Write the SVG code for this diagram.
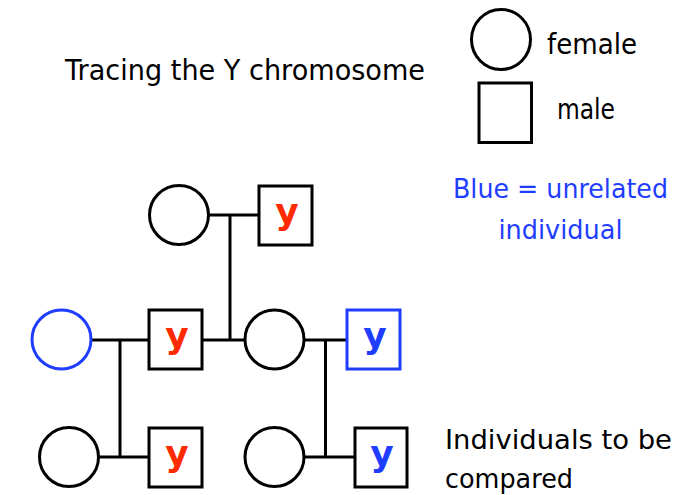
<svg xmlns="http://www.w3.org/2000/svg" width="691" height="495" viewBox="0 0 691 495">
  <style>
    .txt { font-family: "DejaVu Sans", "Liberation Sans", sans-serif; fill: #000; }
    .blue-txt { font-family: "DejaVu Sans", "Liberation Sans", sans-serif; fill: #1f3dff; }
    .shape { fill: #fff; stroke: #000; stroke-width: 3; }
    .blue { fill: #fff; stroke: #1f3dff; stroke-width: 3; }
    .conn { stroke: #000; stroke-width: 3; fill: none; }
    .y { font-family: "DejaVu Sans", "Liberation Sans", sans-serif; font-weight: bold; font-size: 36px; text-anchor: middle; }
    .yr { fill: #ff2a00; }
    .yb { fill: #1f3dff; }
  </style>
  <rect width="691" height="495" fill="#fff"/>

  <!-- title and legend -->
  <text class="txt" x="65" y="80" font-size="27.5" textLength="360" lengthAdjust="spacingAndGlyphs">Tracing the Y chromosome</text>
  <g id="legend-female">
    <ellipse class="shape" cx="501" cy="39.5" rx="29.5" ry="30" stroke-width="2.5"/>
    <text class="txt" x="547" y="54" font-size="29" textLength="90" lengthAdjust="spacingAndGlyphs">female</text>
  </g>
  <g id="legend-male">
    <rect class="shape" x="479" y="83" width="52.5" height="59.5" stroke-width="2.5"/>
    <text class="txt" x="557" y="119" font-size="29" textLength="58" lengthAdjust="spacingAndGlyphs">male</text>
  </g>
  <text class="blue-txt" x="560.5" y="198" font-size="27" text-anchor="middle" textLength="215" lengthAdjust="spacingAndGlyphs">Blue = unrelated</text>
  <text class="blue-txt" x="560.5" y="239" font-size="27" text-anchor="middle" textLength="124" lengthAdjust="spacingAndGlyphs">individual</text>
  <text class="txt" x="445" y="449" font-size="27" textLength="227" lengthAdjust="spacingAndGlyphs">Individuals to be</text>
  <text class="txt" x="445" y="488" font-size="27" textLength="128" lengthAdjust="spacingAndGlyphs">compared</text>

  <!-- connectors -->
  <g id="connectors">
    <line class="conn" x1="209" y1="215" x2="259" y2="215"/>
    <line class="conn" x1="230" y1="215" x2="230" y2="340"/>
    <line class="conn" x1="91" y1="340" x2="149" y2="340"/>
    <line class="conn" x1="202" y1="340" x2="245" y2="340"/>
    <line class="conn" x1="304" y1="340" x2="347" y2="340"/>
    <line class="conn" x1="120" y1="340" x2="120" y2="457"/>
    <line class="conn" x1="325.5" y1="340" x2="325.5" y2="457"/>
    <line class="conn" x1="99" y1="457" x2="149" y2="457"/>
    <line class="conn" x1="304" y1="457" x2="355" y2="457"/>
  </g>

  <!-- generation 1 -->
  <g id="gp-female">
    <circle class="shape" cx="179" cy="215" r="29.5"/>
  </g>
  <g id="gp-male">
    <rect class="shape" x="259" y="186" width="53" height="59"/>
    <text class="y yr" x="287" y="224">y</text>
  </g>

  <!-- generation 2 -->
  <g id="unrelated-female">
    <circle class="blue" cx="61.5" cy="339.5" r="29.5"/>
  </g>
  <g id="son">
    <rect class="shape" x="149" y="310" width="53" height="59"/>
    <text class="y yr" x="177" y="348">y</text>
  </g>
  <g id="daughter">
    <circle class="shape" cx="274.5" cy="339.5" r="29.5"/>
  </g>
  <g id="unrelated-male">
    <rect class="blue" x="347" y="310" width="53" height="59"/>
    <text class="y yb" x="375" y="348">y</text>
  </g>

  <!-- generation 3 -->
  <g id="grandchild-female-1">
    <circle class="shape" cx="69" cy="457" r="29.5"/>
  </g>
  <g id="grandson-1">
    <rect class="shape" x="149" y="428" width="53" height="59"/>
    <text class="y yr" x="177" y="466">y</text>
  </g>
  <g id="grandchild-female-2">
    <circle class="shape" cx="274.5" cy="457" r="29.5"/>
  </g>
  <g id="grandson-2">
    <rect class="shape" x="355" y="428" width="52" height="59"/>
    <text class="y yb" x="382" y="466">y</text>
  </g>
</svg>
